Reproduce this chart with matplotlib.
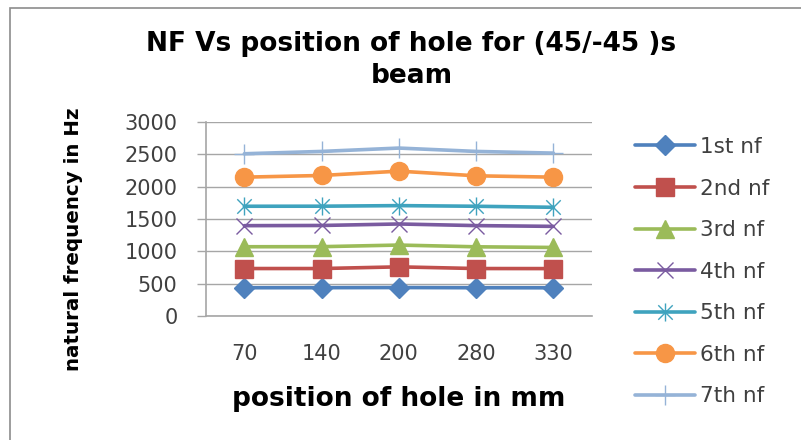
import matplotlib
matplotlib.use("Agg")
import matplotlib.pyplot as plt
from matplotlib.path import Path
from matplotlib.patches import Rectangle

# Hole positions along the beam (mm) and natural frequencies (Hz) for modes 1-7
positions = ["70", "140", "200", "280", "330"]
nf1 = [437, 438, 440, 437, 436]
nf2 = [734, 734, 760, 734, 733]
nf3 = [1071, 1072, 1097, 1070, 1060]
nf4 = [1397, 1400, 1423, 1398, 1386]
nf5 = [1697, 1698, 1707, 1697, 1681]
nf6 = [2147, 2173, 2240, 2168, 2147]
nf7 = [2509, 2545, 2597, 2545, 2519]
series_names = ["1st nf", "2nd nf", "3rd nf", "4th nf", "5th nf", "6th nf", "7th nf"]
yticks = [0, 500, 1000, 1500, 2000, 2500, 3000]

# Excel-style asterisk marker: an X with a vertical stroke
asterisk = Path(
    [(-1, -1), (1, 1), (-1, 1), (1, -1), (0, -1.25), (0, 1.25)],
    [Path.MOVETO, Path.LINETO, Path.MOVETO, Path.LINETO, Path.MOVETO, Path.LINETO],
)

styles = [
    dict(color="#4F81BD", marker="D", ms=10),
    dict(color="#C0504D", marker="s", ms=13),
    dict(color="#9BBB59", marker="^", ms=13),
    dict(color="#7A5BA0", marker="x", ms=12, mew=1.0),
    dict(color="#3FA3BE", marker=asterisk, ms=13, mew=1.0),
    dict(color="#F79646", marker="o", ms=13),
    dict(color="#95B3D7", marker="+", ms=14, mew=1.0),
]

plt.rcParams["font.family"] = ["DejaVu Sans"]

fig = plt.figure(figsize=(8.01, 4.40), dpi=100)
fig.patch.set_facecolor("white")

# chart-area border
fig.add_artist(Rectangle((10 / 801, -0.05), 1.2, 1 - 8 / 440 + 0.05,
                         transform=fig.transFigure, fill=False,
                         edgecolor="#8C8C8C", linewidth=1.2))

ax = fig.add_axes([205.7 / 801, 1 - 316 / 440, (592 - 205.7) / 801, (316 - 122) / 440])

x = list(range(len(positions)))
for vals, name, st in zip([nf1, nf2, nf3, nf4, nf5, nf6, nf7], series_names, styles):
    ax.plot(x, vals, label=name, color=st["color"], linewidth=2.6,
            marker=st["marker"], markersize=st["ms"],
            markeredgewidth=st.get("mew", 1.0), markeredgecolor=st["color"],
            markerfacecolor=st["color"], solid_capstyle="round", zorder=3)

ax.set_xlim(-0.5, len(positions) - 0.5)
ax.set_ylim(0, 3000)
ax.set_yticks(yticks)
ax.set_yticklabels([str(v) for v in yticks])
ax.set_xticks(x)
ax.set_xticklabels(positions)

ax.grid(axis="y", color="#A6A6A6", linewidth=1.0, zorder=0)
ax.set_axisbelow(True)
for s in ["top", "right"]:
    ax.spines[s].set_visible(False)
for s in ["left", "bottom"]:
    ax.spines[s].set_color("#A6A6A6")
    ax.spines[s].set_linewidth(1.2)

ax.tick_params(axis="y", length=6.3, width=1.0, color="#A6A6A6", pad=14,
               labelsize=15, labelcolor="#404040")
ax.tick_params(axis="x", length=0, pad=20, labelsize=15, labelcolor="#404040")

ax.set_xlabel("position of hole in mm", fontsize=19, fontweight="bold", labelpad=16)
ax.set_ylabel("natural frequency in Hz", fontsize=14.3, fontweight="bold")
ax.yaxis.set_label_coords(-0.317, 0.397)

fig.text(411.5 / 801, 1 - 31 / 440, "NF Vs position of hole for (45/-45 )s\nbeam",
         ha="center", va="top", fontsize=19, fontweight="bold",
         linespacing=1.32, color="black")

leg = ax.legend(loc="upper left", bbox_to_anchor=(635 / 801, 1 - 137 / 440),
                bbox_transform=fig.transFigure, frameon=False, fontsize=15.5,
                handlelength=2.8, handletextpad=0.2, labelspacing=1.0,
                borderpad=0, borderaxespad=0)
for t in leg.get_texts():
    t.set_color("#404040")

fig.savefig("out.png", dpi=100, facecolor="white")
